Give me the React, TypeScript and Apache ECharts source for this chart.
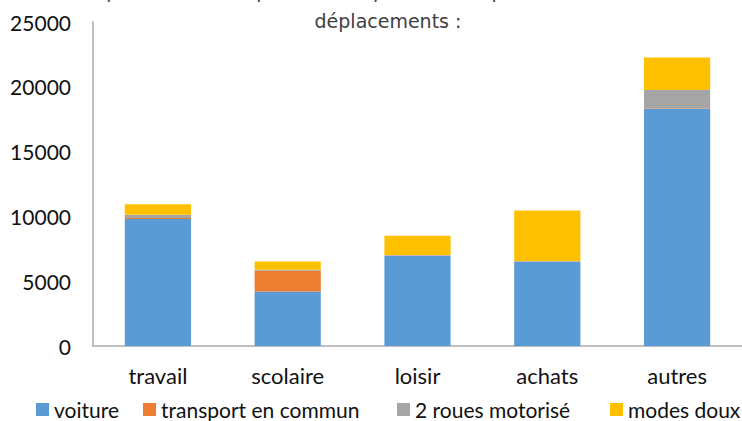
import React, { useEffect, useRef } from "react";
import * as echarts from "echarts";

const categories = ["travail", "scolaire", "loisir", "achats", "autres"];
const seriesNames = ["voiture", "transport en commun", "2 roues motorisé", "modes doux"];
const voiture = [9800, 4200, 6970, 6500, 18300];
const transportEnCommun = [80, 1600, 20, 20, 50];
const deuxRoues = [250, 80, 30, 30, 1400];
const modesDoux = [800, 640, 1490, 3900, 2520];
const colors = ["#5B9BD5", "#ED7D31", "#A5A5A5", "#FFC000"];
const titleLine1 = "Répartition des déplacements par motif et par mode, en nombre de";
const titleLine2 = "déplacements :";

const FONT = "Lato, 'Noto Sans', sans-serif";
const legendLefts = [36, 143, 397, 610];

export default function App() {
  const ref = useRef<HTMLDivElement>(null);
  useEffect(() => {
    if (!ref.current) return;
    const chart = echarts.init(ref.current, undefined, { renderer: "svg" });
    const data = [voiture, transportEnCommun, deuxRoues, modesDoux];
    chart.setOption({
      animation: false,
      backgroundColor: "#ffffff",
      color: colors,
      graphic: [
        {
          type: "text",
          x: 405,
          y: -9,
          style: {
            text: titleLine1,
            fill: "#404040",
            font: "19px 'DejaVu Sans'",
            align: "center",
            verticalAlign: "middle",
          },
        },
        {
          type: "text",
          x: 388,
          y: 21,
          style: {
            text: titleLine2,
            fill: "#404040",
            font: "19px 'DejaVu Sans'",
            align: "center",
            verticalAlign: "middle",
          },
        },
      ],
      legend: seriesNames.map((n, i) => ({
        data: [n],
        left: legendLefts[i],
        top: 399,
        itemWidth: 13,
        itemHeight: 13,
        itemGap: 0,
        icon: "rect",
        textStyle: { fontFamily: FONT, fontSize: 21, lineHeight: 21, color: "#111" },
        padding: 0,
      })),
      grid: { left: 93, top: 22, width: 655, height: 324, containLabel: false },
      xAxis: {
        type: "category",
        data: categories,
        axisLine: { lineStyle: { color: "#BFBFBF", width: 2 } },
        axisTick: { show: false },
        axisLabel: { fontFamily: FONT, fontSize: 22, color: "#111", margin: 18 },
      },
      yAxis: {
        type: "value",
        min: 0,
        max: 25000,
        interval: 5000,
        axisLine: { show: true, lineStyle: { color: "#BFBFBF", width: 2 } },
        axisTick: { show: false },
        splitLine: { show: false },
        axisLabel: {
          fontFamily: FONT,
          fontSize: 21,
          color: "#111",
          margin: 22,
          formatter: (v: number) => String(v),
        },
      },
      series: seriesNames.map((n, i) => ({
        name: n,
        type: "bar",
        stack: "total",
        data: data[i],
        barCategoryGap: "49%",
        itemStyle: { color: colors[i] },
      })),
    });
    return () => chart.dispose();
  }, []);
  return (
    <div
      ref={ref}
      style={{ position: "fixed", left: 0, top: 0, width: 742, height: 421 }}
    />
  );
}
